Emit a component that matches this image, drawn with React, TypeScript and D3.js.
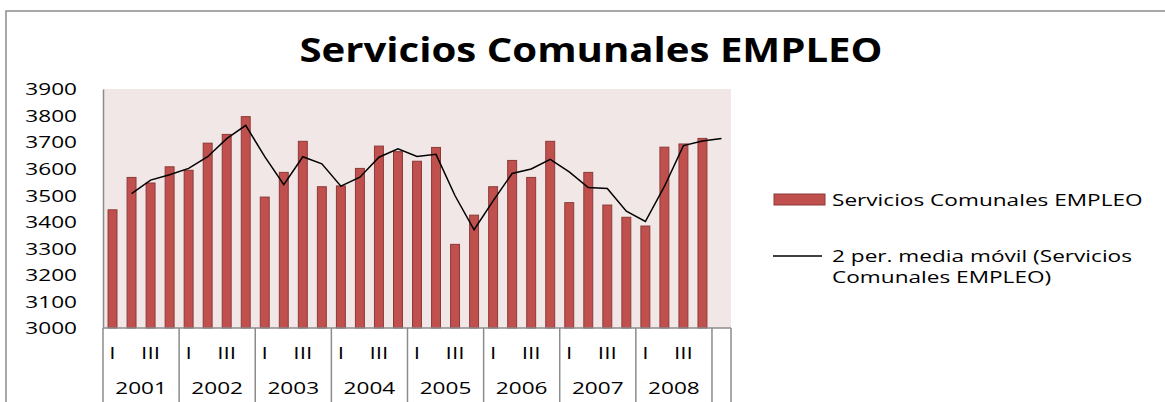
import React, { useEffect, useRef } from 'react';
import * as d3 from 'd3';

const years = ['2001', '2002', '2003', '2004', '2005', '2006', '2007', '2008'];
const quarters = ['I', 'II', 'III', 'IV'];
const empleo = [
  3445, 3567, 3546, 3607,
  3594, 3696, 3729, 3796,
  3493, 3586, 3703, 3532,
  3535, 3601, 3685, 3664,
  3628, 3680, 3315, 3425,
  3532, 3631, 3567, 3703,
  3472, 3586, 3463, 3417,
  3384, 3681, 3693, 3714,
];
// 2 per. media móvil, one value per slot (first slot has none, last extra slot after 2008)
const mediaMovil: (number | null)[] = [
  null, 3506, 3557, 3577,
  3601, 3645, 3713, 3763,
  3645, 3540, 3645, 3618,
  3534, 3568, 3643, 3675,
  3646, 3654, 3498, 3370,
  3479, 3582, 3599, 3635,
  3588, 3529, 3525, 3440,
  3401, 3533, 3687, 3704,
  3714,
];
const yTicks = [3000, 3100, 3200, 3300, 3400, 3500, 3600, 3700, 3800, 3900];

const title = 'Servicios Comunales EMPLEO';
const legendBar = 'Servicios Comunales EMPLEO';
const legendLine = ['2 per. media móvil (Servicios', 'Comunales EMPLEO)'];

const W = 1165;
const H = 402;
const SX = 1.33; // horizontal stretch of the original picture's text

export default function App() {
  const svgRef = useRef<SVGSVGElement>(null);

  useEffect(() => {
    if (!svgRef.current) return;
    const svg = d3.select(svgRef.current);
    svg.selectAll('*').remove();

    const plot = { left: 103, right: 731, top: 89, bottom: 328 };
    const font = "'Open Sans', sans-serif";
    const nSlots = mediaMovil.length;

    const x = d3.scaleBand<number>()
      .domain(d3.range(nSlots))
      .range([plot.left, plot.right])
      .paddingInner(0.53)
      .paddingOuter(0.265);
    const step = x.step();
    const cx = (i: number) => (x(i) || 0) + x.bandwidth() / 2;

    const y = d3.scaleLinear().domain([3000, 3900]).range([plot.bottom, plot.top]);

    const stretchedText = (g: any, tx: number, ty: number, txt: string, size: number, anchor = 'middle', weight = 'normal') =>
      g.append('text')
        .attr('transform', `translate(${tx},${ty}) scale(${SX},1)`)
        .attr('text-anchor', anchor)
        .attr('dominant-baseline', 'central')
        .attr('font-family', font)
        .attr('font-size', size)
        .attr('font-weight', weight)
        .attr('fill', '#000')
        .text(txt);

    // chart frame
    svg.append('path')
      .attr('d', `M6,${H}V11H${W}`)
      .attr('fill', 'none')
      .attr('stroke', '#8c8c8c')
      .attr('stroke-width', 1.5);

    // title
    svg.append('text')
      .attr('x', 591)
      .attr('y', 49)
      .attr('text-anchor', 'middle')
      .attr('dominant-baseline', 'central')
      .attr('font-family', font)
      .attr('font-size', 34)
      .attr('font-weight', 'bold')
      .attr('textLength', 583)
      .attr('lengthAdjust', 'spacingAndGlyphs')
      .text(title);

    // plot background
    svg.append('rect')
      .attr('x', plot.left)
      .attr('y', plot.top)
      .attr('width', plot.right - plot.left)
      .attr('height', plot.bottom - plot.top)
      .attr('fill', '#f2e7e7');

    // y axis
    const yAxis = svg.append('g')
      .attr('transform', `translate(${plot.left},0)`)
      .call(d3.axisLeft(y).tickValues(yTicks).tickSize(0).tickSizeOuter(0));
    yAxis.select('.domain').attr('stroke', '#8c8c8c').attr('stroke-width', 1.5);
    yAxis.selectAll('text').remove();
    yTicks.forEach(t => stretchedText(svg, plot.left - 26, y(t), String(t), 17, 'end'));

    // bars
    svg.append('g')
      .selectAll('rect')
      .data(empleo)
      .join('rect')
      .attr('x', (_, i) => x(i) || 0)
      .attr('y', d => y(d))
      .attr('width', x.bandwidth())
      .attr('height', d => y(3000) - y(d))
      .attr('fill', '#c0504d')
      .attr('stroke', '#8c3a38')
      .attr('stroke-width', 1);

    // moving average line
    const line = d3.line<number | null>()
      .defined(d => d != null)
      .x((_, i) => cx(i))
      .y(d => y(d as number));
    svg.append('path')
      .datum(mediaMovil)
      .attr('d', line)
      .attr('fill', 'none')
      .attr('stroke', '#000')
      .attr('stroke-width', 1.5);

    // category axis
    const axisG = svg.append('g');
    axisG.append('line')
      .attr('x1', plot.left).attr('x2', plot.right)
      .attr('y1', plot.bottom).attr('y2', plot.bottom)
      .attr('stroke', '#8c8c8c').attr('stroke-width', 1.5);
    const seps = d3.range(years.length + 1).map(g => plot.left + g * quarters.length * step);
    seps.push(plot.right);
    axisG.selectAll('line.sep')
      .data(seps)
      .join('line')
      .attr('class', 'sep')
      .attr('x1', d => d).attr('x2', d => d)
      .attr('y1', plot.bottom).attr('y2', H)
      .attr('stroke', '#8c8c8c').attr('stroke-width', 1.5);

    years.forEach((yr, g) => {
      quarters.forEach((q, k) => {
        if (k % 2 === 0) stretchedText(axisG, cx(g * 4 + k), 353, q, 17);
      });
      stretchedText(axisG, (cx(g * 4 + 1) + cx(g * 4 + 2)) / 2, 388, yr, 17);
    });

    // legend
    const lg = svg.append('g');
    lg.append('rect')
      .attr('x', 774).attr('y', 194).attr('width', 51).attr('height', 11)
      .attr('fill', '#c0504d').attr('stroke', '#8c3a38');
    stretchedText(lg, 832, 200, legendBar, 17, 'start');
    lg.append('line')
      .attr('x1', 773).attr('x2', 822).attr('y1', 256).attr('y2', 256)
      .attr('stroke', '#000').attr('stroke-width', 1.5);
    stretchedText(lg, 832, 256, legendLine[0], 17, 'start');
    stretchedText(lg, 832, 277, legendLine[1], 17, 'start');
  }, []);

  return (
    <svg
      ref={svgRef}
      width={W}
      height={H}
      style={{ position: 'absolute', left: 0, top: 0, background: '#fff' }}
    />
  );
}
